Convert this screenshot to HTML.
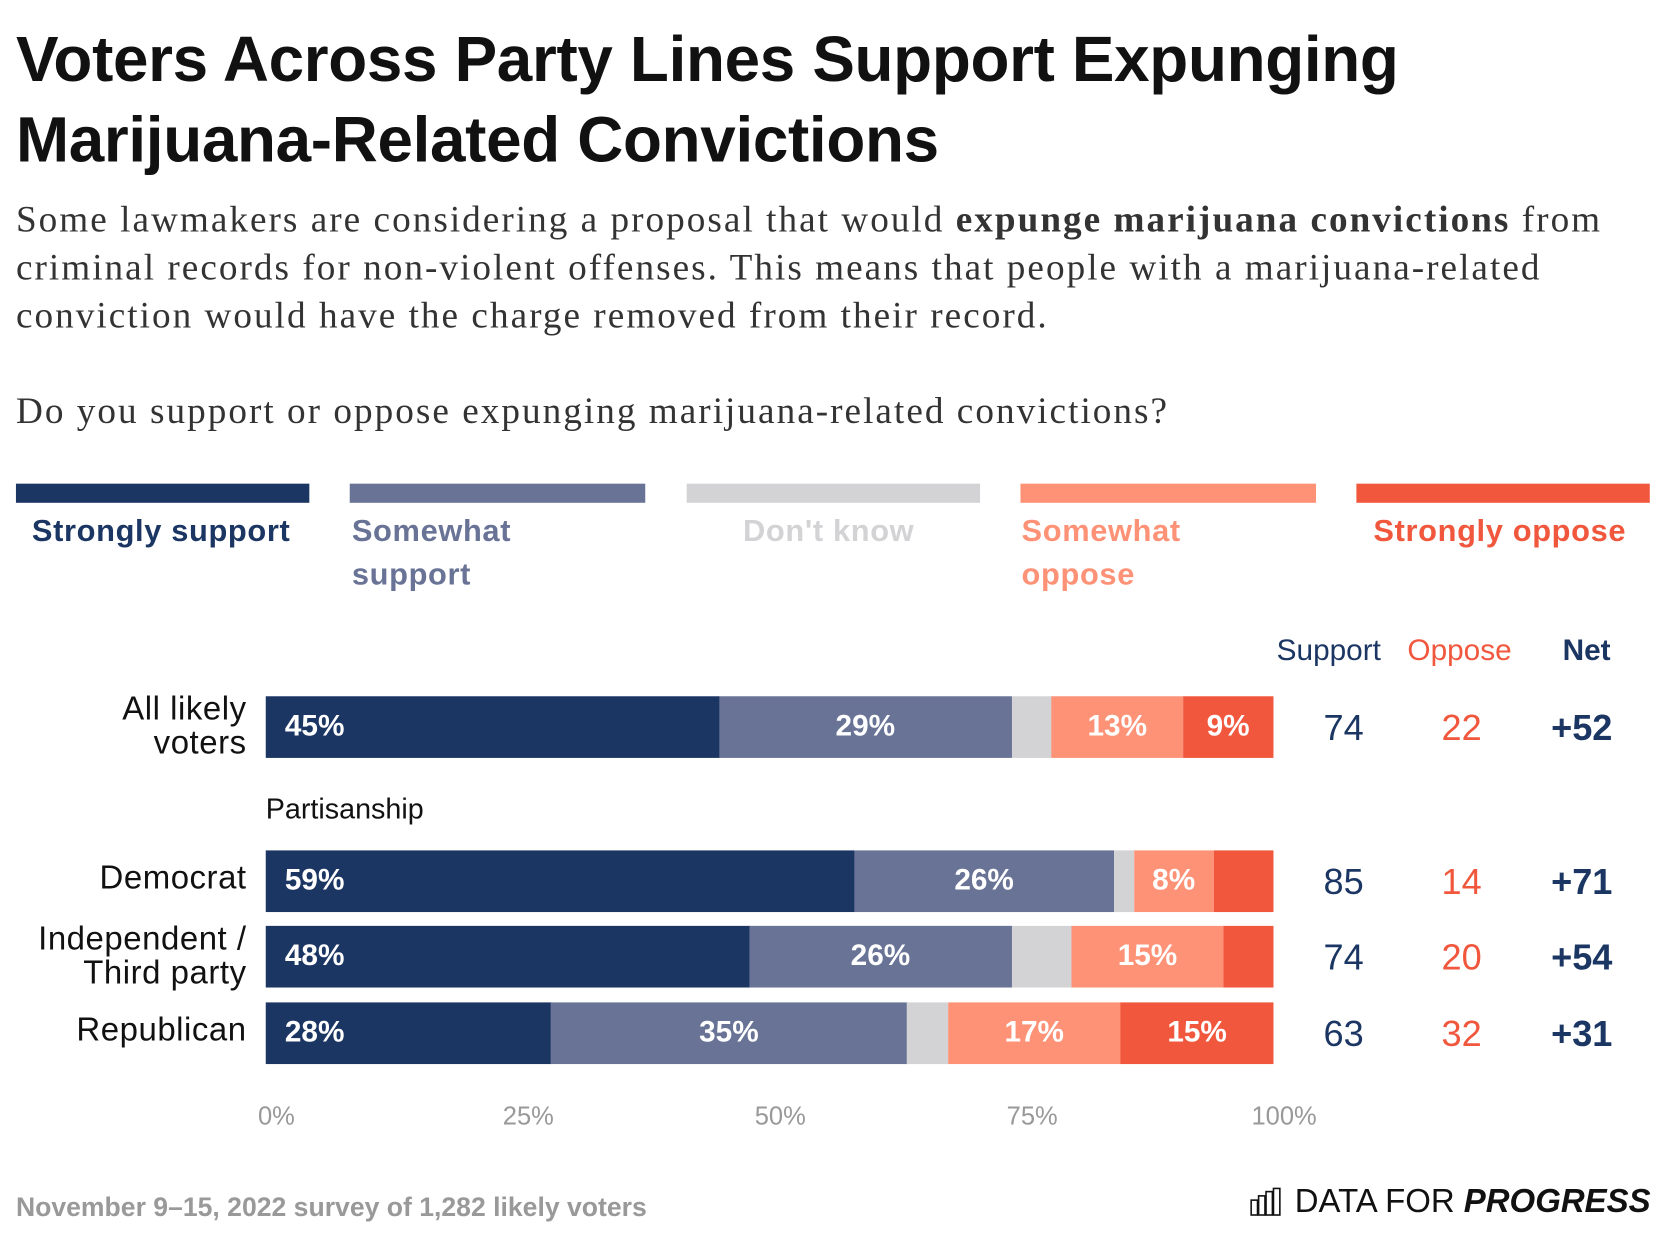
<!DOCTYPE html>
<html><head><meta charset="utf-8"><style>
html,body{margin:0;padding:0;background:#fff;width:1666px;height:1236px;overflow:hidden}
#w{position:absolute;left:0;top:0;width:1562px;height:1159px;transform:scale(1.063);transform-origin:0 0;font-family:"Liberation Sans",sans-serif}
.t{position:absolute;white-space:nowrap}
h1{position:absolute;left:15px;top:18px;margin:0;font-size:60px;line-height:76px;font-weight:bold;color:#111;letter-spacing:-0.3px}
.sub{position:absolute;left:15px;font-family:"Liberation Serif",serif;font-size:35px;color:#333;line-height:45px;letter-spacing:1.9px}
.lg{position:absolute;height:18px;top:455px}
.ll{position:absolute;top:480px;font-weight:bold;font-size:29px;line-height:41px;letter-spacing:0.6px}
</style></head><body><div id="w">
<h1>Voters Across Party Lines Support Expunging<br>Marijuana-Related Convictions</h1>
<div class="sub" style="top:184px">Some lawmakers are considering a proposal that would <b>expunge marijuana convictions</b> from<br>criminal records for non-violent offenses. This means that people with a marijuana-related<br>conviction would have the charge removed from their record.</div>
<div class="sub" style="top:364px">Do you support or oppose expunging marijuana-related convictions?</div>
<div class="lg" style="left:15px;width:276px;background:#1c3664"></div>
<div class="lg" style="left:329px;width:278px;background:#687396"></div>
<div class="lg" style="left:646px;width:276px;background:#d3d3d5"></div>
<div class="lg" style="left:960px;width:278px;background:#fd9277"></div>
<div class="lg" style="left:1276px;width:276px;background:#f1573d"></div>
<div class="ll" style="left:30px;color:#1c3664">Strongly support</div>
<div class="ll" style="left:331px;color:#687396">Somewhat<br>support</div>
<div class="ll" style="left:699px;color:#d3d3d5">Don't know</div>
<div class="ll" style="left:961px;color:#fd9277">Somewhat<br>oppose</div>
<div class="ll" style="left:1292px;color:#f1573d">Strongly oppose</div>
<div class="t" style="left:1201px;top:596px;font-size:28px;color:#1c3664">Support</div>
<div class="t" style="left:1324px;top:596px;font-size:28px;color:#f1573d">Oppose</div>
<div class="t" style="left:1470px;top:596px;font-size:28px;font-weight:bold;color:#1c3664">Net</div>
<div class="t" style="left:250px;top:746px;font-size:27px;color:#111">Partisanship</div>
<div id="plot"></div>
<div class="t" style="left:15px;top:1122px;font-size:25px;font-weight:bold;color:#999">November 9–15, 2022 survey of 1,282 likely voters</div>
<svg class="t" style="left:1176px;top:1117px" width="30" height="28"><g fill="none" stroke="#111" stroke-width="1.5"><rect x="1" y="12" width="6" height="14"/><rect x="8" y="8" width="6" height="18"/><rect x="15" y="4" width="6" height="22"/><rect x="22" y="1" width="6" height="25"/></g></svg>
<div class="t" style="left:1218px;top:1112px;font-size:31px;color:#111">DATA FOR <b><i>PROGRESS</i></b></div>
</div>
<script>
const rows = ["All likely\nvoters","Democrat","Independent /\nThird party","Republican"];
const strongSupport = [45,59,48,28];
const someSupport = [29,26,26,35];
const dontKnow = [4,2,6,4];
const someOppose = [13,8,15,17];
const strongOppose = [9,6,5,15];
const supportTot = [74,85,74,63];
const opposeTot = [22,14,20,32];
const netVals = ["+52","+71","+54","+31"];
const ticks = [0,25,50,75,100];
const colors=["#1c3664","#687396","#d3d3d5","#fd9277","#f1573d"];
const rowTop=[655,800,871,943], H=58, X0=250, W=948;
const x=v=>X0+W*v/100;
const plot=document.getElementById('plot');
function add(css,txt){const d=document.createElement('div');d.className='t';d.style.cssText=css;if(txt!==undefined)d.textContent=txt;plot.appendChild(d);return d;}
rows.forEach((r,i)=>{
  const segs=[strongSupport[i],someSupport[i],dontKnow[i],someOppose[i],strongOppose[i]];
  const tot=segs.reduce((a,b)=>a+b,0);
  let acc=0;const y=rowTop[i];
  const lab=add(`right:${1562-232}px;top:${y+(r.includes('\n')?-4:10)}px;font-size:31px;letter-spacing:0.5px;line-height:32px;color:#111;text-align:right;white-space:pre`,r);
  
  
  segs.forEach((v,k)=>{
    const a=x(acc/tot*100),b=x((acc+v)/tot*100);acc+=v;
    const s=add(`left:${a}px;top:${y}px;width:${b-a+0.5}px;height:${H}px;background:${colors[k]}`);
    
    
    if(v>=8){
      const css=k==0?`left:${a+18}px;`:`left:${a}px;width:${b-a}px;text-align:center;`;
      const t=add(css+`top:${y+12}px;font-size:28px;font-weight:bold;color:#fff`,v+'%');
      
      
    }
  });
  const s1=add(`left:1214px;width:100px;text-align:center;top:${y+11}px;font-size:34px;color:#1c3664`,supportTot[i]);
  
  
  const s2=add(`left:1325px;width:100px;text-align:center;top:${y+11}px;font-size:34px;color:#f1573d`,opposeTot[i]);
  
  
  const s3=add(`left:1438px;width:100px;text-align:center;top:${y+11}px;font-size:34px;font-weight:bold;color:#1c3664`,netVals[i]);
  
  
});
ticks.forEach(t=>{
  const d=add(`left:${x(t)+10-60}px;width:120px;text-align:center;top:1037px;font-size:24px;color:#999`,t+'%');
  
  
});
</script>
</body></html>
